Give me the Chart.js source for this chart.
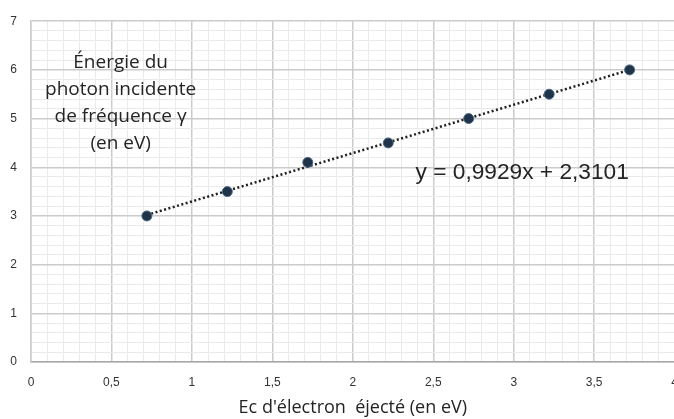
<!DOCTYPE html>
<html>
<head>
<meta charset="utf-8">
<script src="https://cdn.jsdelivr.net/npm/chart.js@4/dist/chart.umd.min.js"></script>
<style>
  html, body { margin: 0; padding: 0; background: #fff; overflow: hidden; }
  canvas { display: block; }
</style>
</head>
<body>
<canvas id="chart" width="691" height="419"></canvas>
<script>
// Ec of ejected electron (eV) vs photon energy (eV)
const ecValues = [0.72, 1.22, 1.72, 2.22, 2.72, 3.22, 3.72];
const energyValues = [3.0, 3.5, 4.1, 4.5, 5.0, 5.5, 6.0];

// linear trendline (end points)
const trendX = [0.72, 3.72];
const trendY = [3.02, 6.0];

const noteLines = ['Énergie du', 'photon incidente', 'de fréquence γ', '(en eV)'];
const equationText = 'y = 0,9929x + 2,3101';
const xTitle = "Ec d'électron  éjecté (en eV)";

const fmt = v => String(Math.round(v * 10) / 10).replace('.', ',');
const majorX = v => Math.round(v * 10) % 5 === 0;
const majorY = v => Math.round(v * 10) % 10 === 0;

// Text boxes placed on the plot
const notes = {
  id: 'notes',
  afterDatasetsDraw(chart) {
    const { ctx, scales: { x, y } } = chart;
    ctx.save();
    ctx.fillStyle = '#242424';
    ctx.textBaseline = 'middle';

    ctx.font = '19px "Open Sans", sans-serif';
    ctx.textAlign = 'center';
    const cx = x.getPixelForValue(0.557);
    const top = y.getPixelForValue(6.14);
    noteLines.forEach((line, i) => ctx.fillText(line, cx, top + i * 27));

    ctx.font = '22.7px "Liberation Sans", Arial, sans-serif';
    ctx.textAlign = 'left';
    ctx.fillText(equationText, x.getPixelForValue(2.39), y.getPixelForValue(3.88));
    ctx.restore();
  }
};

new Chart(document.getElementById('chart'), {
  type: 'scatter',
  data: {
    datasets: [
      {
        label: 'Trend',
        type: 'line',
        data: trendX.map((v, i) => ({ x: v, y: trendY[i] })),
        borderColor: '#1e1e1e',
        borderWidth: 2.5,
        borderDash: [2, 2.5],
        pointRadius: 0,
        fill: false,
        order: 2
      },
      {
        label: 'Mesures',
        data: ecValues.map((v, i) => ({ x: v, y: energyValues[i] })),
        backgroundColor: '#1f3349',
        borderColor: '#4d6a88',
        borderWidth: 1,
        pointRadius: 5,
        order: 1
      }
    ]
  },
  options: {
    responsive: false,
    animation: false,
    layout: { padding: { top: 20, right: 0, left: 0, bottom: 0 } },
    plugins: {
      legend: { display: false },
      tooltip: { enabled: false }
    },
    scales: {
      x: {
        type: 'linear',
        min: 0,
        max: 4,
        afterFit(scale) { scale.height = 57; },
        grid: {
          drawTicks: false,
          color: c => (c.tick && majorX(c.tick.value) ? '#cbcbcb' : '#eaeaea'),
          lineWidth: c => (c.tick && majorX(c.tick.value) ? 1.5 : 1)
        },
        border: { color: '#a8a8a8', width: 1.5 },
        ticks: {
          stepSize: 0.1,
          autoSkip: false,
          maxRotation: 0,
          padding: 13,
          color: '#333333',
          font: { size: 12, family: '"Liberation Sans", Arial, sans-serif' },
          callback: v => (majorX(v) ? fmt(v) : '')
        },
        title: {
          display: true,
          text: xTitle,
          color: '#242424',
          font: { size: 18, family: '"Open Sans", sans-serif' },
          padding: { top: 0, bottom: 0 }
        }
      },
      y: {
        min: 0,
        max: 7,
        afterFit(scale) { scale.width = 31; },
        grid: {
          drawTicks: false,
          color: c => (c.tick && majorY(c.tick.value) ? '#cbcbcb' : '#eaeaea'),
          lineWidth: c => (c.tick && majorY(c.tick.value) ? 1.5 : 1)
        },
        border: { color: '#cbcbcb', width: 1.5 },
        ticks: {
          stepSize: 0.2,
          autoSkip: false,
          padding: 14,
          color: '#333333',
          font: { size: 12, family: '"Liberation Sans", Arial, sans-serif' },
          callback: v => (majorY(v) ? fmt(v) : '')
        }
      }
    }
  },
  plugins: [notes]
});
</script>
</body>
</html>
